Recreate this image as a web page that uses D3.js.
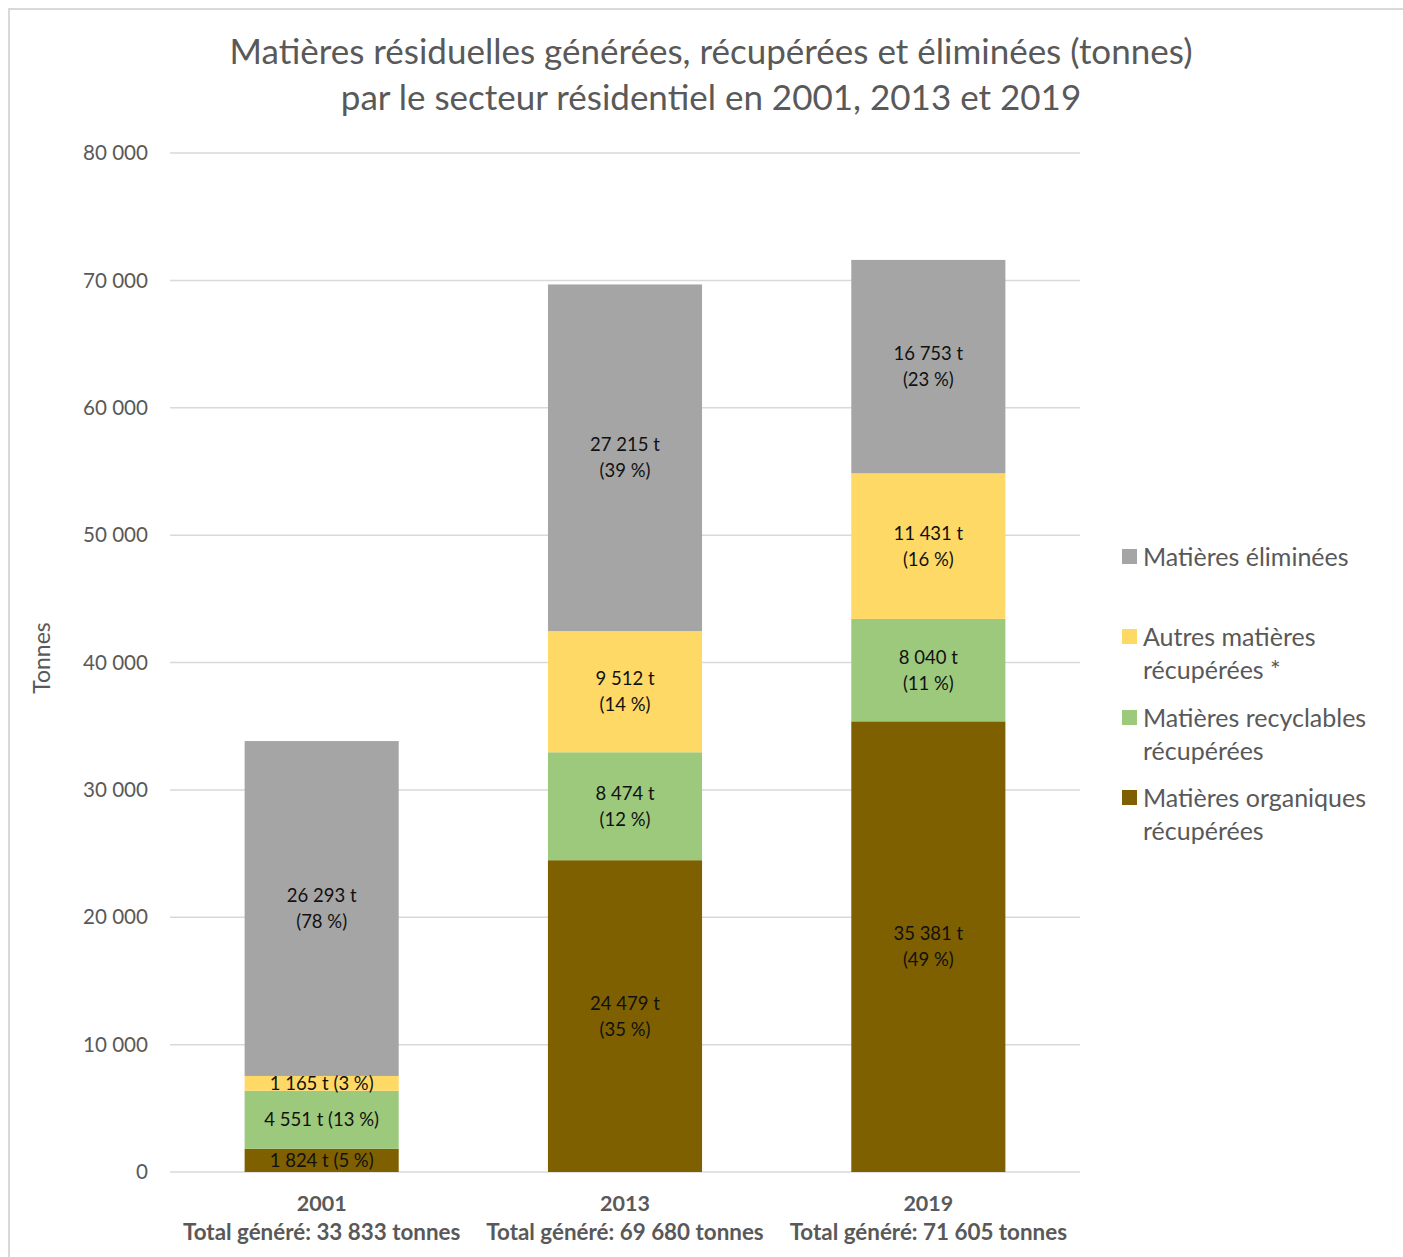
<!DOCTYPE html>
<html><head><meta charset="utf-8">
<script src="https://cdn.jsdelivr.net/npm/d3@7"></script>
<style>body{margin:0;background:#fff;} svg{display:block;} text{font-family:Lato,"Noto Sans",sans-serif;}</style>
</head><body><div id="chart"></div>
<script>
const years = ["2001", "2013", "2019"];
const totals = ["33 833", "69 680", "71 605"];
const seriesNames = ["Matières organiques récupérées", "Matières recyclables récupérées", "Autres matières récupérées *", "Matières éliminées"];
const legendLines = [["Matières organiques", "récupérées"], ["Matières recyclables", "récupérées"], ["Autres matières", "récupérées *"], ["Matières éliminées"]];
const colors = ["#7F6000", "#9DC97C", "#FFD966", "#A5A5A5"];
const organiques = [1824, 24479, 35381];
const recyclables = [4551, 8474, 8040];
const autres = [1165, 9512, 11431];
const eliminees = [26293, 27215, 16753];
const pctOrganiques = [5, 35, 49];
const pctRecyclables = [13, 12, 11];
const pctAutres = [3, 14, 16];
const pctEliminees = [78, 39, 23];
const yTicks = [0, 10000, 20000, 30000, 40000, 50000, 60000, 70000, 80000];

const W = 1403, H = 1257;
const svg = d3.select("#chart").append("svg").attr("width", W).attr("height", H);
svg.append("rect").attr("x", 9).attr("y", 9).attr("width", 1420).attr("height", 1280)
  .attr("fill", "none").attr("stroke", "#d9d9d9").attr("stroke-width", 2);

const fmt = v => d3.format(",")(v).replace(/,/g, " ");
const values = [organiques, recyclables, autres, eliminees];
const pcts = [pctOrganiques, pctRecyclables, pctAutres, pctEliminees];
const data = years.map((y, i) => {
  const o = {year: y};
  seriesNames.forEach((s, k) => o[s] = values[k][i]);
  return o;
});
const stacked = d3.stack().keys(seriesNames)(data);

const x = d3.scaleBand().domain(years).range([170, 1080]).paddingInner(0.492).paddingOuter(0.246);
const y = d3.scaleLinear().domain([0, 80000]).range([1172, 153]);

// grid
svg.append("g").selectAll("line").data(yTicks).join("line")
  .attr("x1", 170).attr("x2", 1080).attr("y1", d => y(d)).attr("y2", d => y(d))
  .attr("stroke", "#d9d9d9").attr("stroke-width", 1.5);
// y labels
svg.append("g").selectAll("text").data(yTicks).join("text")
  .attr("x", 148).attr("y", d => y(d)).attr("dy", "0.35em").attr("text-anchor", "end")
  .attr("font-size", 20.6).attr("fill", "#595959").text(d => fmt(d));

// bars
const g = svg.append("g");
stacked.forEach((layer, k) => {
  g.selectAll(null).data(layer).join("rect")
    .attr("x", d => x(d.data.year)).attr("width", x.bandwidth())
    .attr("y", d => y(d[1])).attr("height", d => y(d[0]) - y(d[1]))
    .attr("fill", colors[k]);
});
// labels
stacked.forEach((layer, k) => {
  layer.forEach((d, i) => {
    const cx = x(d.data.year) + x.bandwidth() / 2;
    const cy = (y(d[0]) + y(d[1])) / 2;
    const v = values[k][i], p = pcts[k][i];
    const t = g.append("text").attr("x", cx).attr("text-anchor", "middle").attr("font-size", 18.5).attr("fill", "#111");
    if (y(d[0]) - y(d[1]) < 60) {
      t.attr("y", cy).attr("dy", "0.35em").text(`${fmt(v)} t (${p} %)`);
    } else {
      t.append("tspan").attr("x", cx).attr("y", cy - 13).attr("dy", "0.35em").text(`${fmt(v)} t`);
      t.append("tspan").attr("x", cx).attr("y", cy + 13).attr("dy", "0.35em").text(`(${p} %)`);
    }
  });
});

// x labels
years.forEach((yr, i) => {
  const cx = x(yr) + x.bandwidth() / 2;
  svg.append("text").attr("x", cx).attr("y", 1211).attr("text-anchor", "middle")
    .attr("font-size", 21.5).attr("font-weight", "bold").attr("fill", "#595959").text(yr);
  svg.append("text").attr("x", cx).attr("y", 1240).attr("text-anchor", "middle")
    .attr("font-size", 22.4).attr("font-weight", "bold").attr("fill", "#595959").text(`Total généré: ${totals[i]} tonnes`);
});

// y title
svg.append("text").attr("transform", "translate(50,658) rotate(-90)").attr("text-anchor", "middle")
  .attr("font-size", 23).attr("fill", "#595959").text("Tonnes");

// title
svg.append("text").attr("x", 711).attr("y", 64).attr("text-anchor", "middle").attr("font-size", 35).attr("fill", "#595959")
  .text("Matières résiduelles générées, récupérées et éliminées (tonnes)");
svg.append("text").attr("x", 711).attr("y", 110).attr("text-anchor", "middle").attr("font-size", 35).attr("fill", "#595959")
  .text("par le secteur résidentiel en 2001, 2013 et 2019");

// legend
const legendY = [798, 718, 637, 557];
const lg = svg.append("g");
seriesNames.forEach((s, k) => {
  lg.append("rect").attr("x", 1122).attr("y", legendY[k] - 8).attr("width", 15).attr("height", 15).attr("fill", colors[k]);
  legendLines[k].forEach((ln, j) => {
    lg.append("text").attr("x", 1143).attr("y", legendY[k] + j * 33).attr("dy", "0.35em")
      .attr("font-size", 25).attr("fill", "#595959").text(ln);
  });
});
</script></body></html>
